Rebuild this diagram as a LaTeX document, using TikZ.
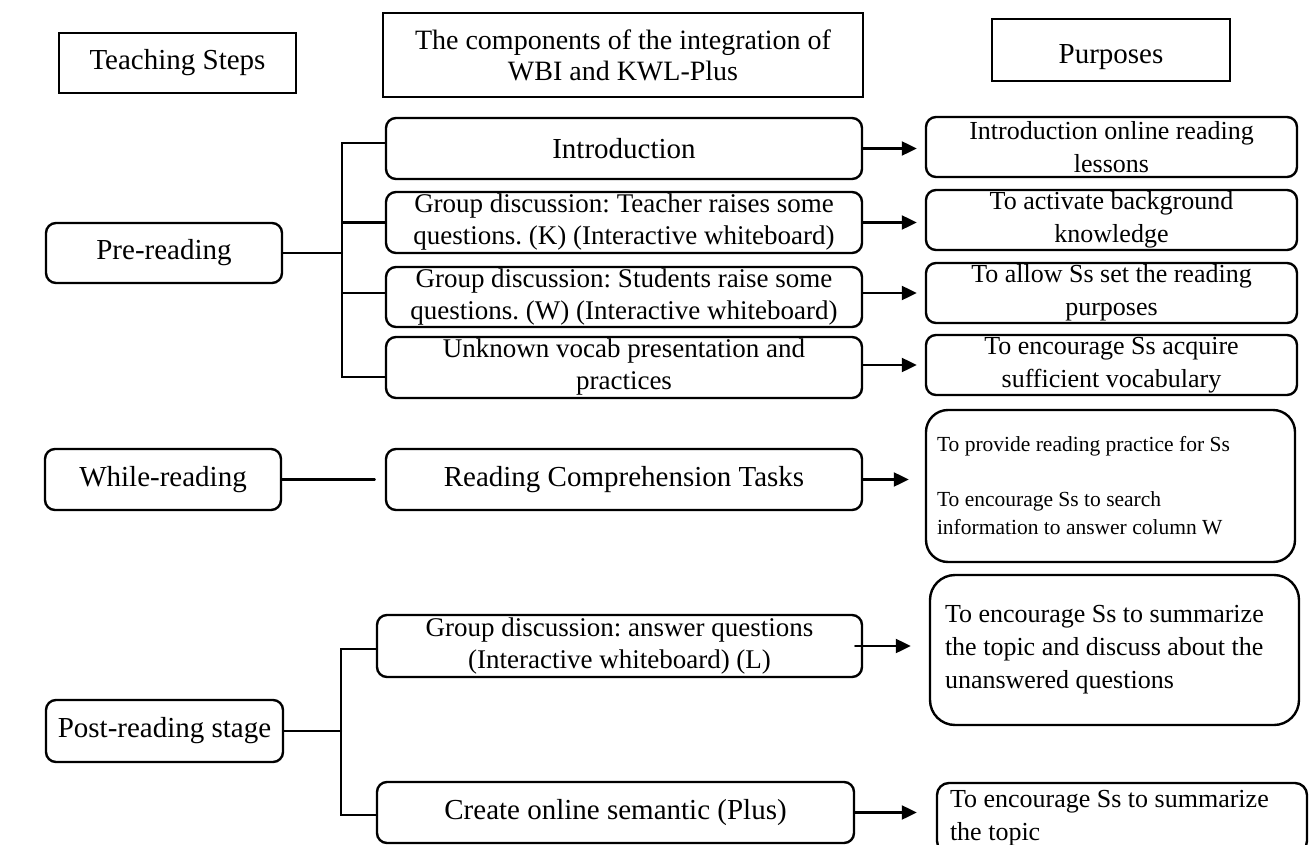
\documentclass[tikz,border=0pt]{standalone}
\usepackage{fontspec}
\setmainfont{Liberation Serif}
\usetikzlibrary{arrows.meta}
\frenchspacing
\begin{document}
\begin{tikzpicture}[x=1pt, y=-1pt, line cap=round,
    box/.style={draw, line width=2.4pt, rounded corners=10pt, inner sep=0pt, align=center},
    sq/.style={draw, line width=2.2pt, inner sep=0pt, align=center},
    big/.style={font=\fontsize{29}{31}\selectfont},
    mid/.style={font=\fontsize{27}{32}\selectfont},
    purp/.style={font=\fontsize{26}{33}\selectfont},
    link/.style={line width=2.2pt},
    arr/.style={line width=2.2pt, -{Triangle[length=15pt, width=14pt]}}]
  \useasboundingbox (0,0) rectangle (1311,845);
  \clip (0,0) rectangle (1311,845);
  \fill[white] (0,0) rectangle (1311,845);

  \node[sq, big, minimum width=237pt, minimum height=60pt] (steps) at (177.5,63) {Teaching Steps};
  \node[sq, font=\fontsize{28}{31}\selectfont, minimum width=480pt, minimum height=84pt] (comp) at (623,55) {The components of the integration of\\WBI and KWL-Plus};
  \node[sq, big, minimum width=238pt, minimum height=62pt, text height=28pt, text depth=0pt] (purps) at (1111,50) {Purposes};

  \node[box, big, minimum width=236pt, minimum height=60pt] (pre) at (164,253) {Pre-reading};
  \node[box, big, minimum width=236pt, minimum height=61pt] (whl) at (163,479.5) {While-reading};
  \node[box, big, minimum width=237pt, minimum height=62pt] (pst) at (164.5,731) {Post-reading stage};

  \node[box, big, minimum width=476pt, minimum height=61pt] (intro) at (624,148.5) {Introduction};
  \node[box, mid, minimum width=476pt, minimum height=61pt] (tgd) at (624,222.5) {Group discussion: Teacher raises some\\questions. (K) (Interactive whiteboard)};
  \node[box, mid, minimum width=476pt, minimum height=60pt] (sgd) at (624,297) {Group discussion: Students raise some\\questions. (W) (Interactive whiteboard)};
  \node[box, mid, minimum width=476pt, minimum height=61pt] (vocab) at (624,367.5) {Unknown vocab presentation and\\practices};
  \node[box, big, minimum width=476pt, minimum height=61pt] (rc) at (624,479.5) {Reading Comprehension Tasks};
  \node[box, mid, minimum width=485pt, minimum height=62pt] (ans) at (619.5,646) {Group discussion: answer questions\\(Interactive whiteboard) (L)};
  \node[box, big, minimum width=477pt, minimum height=61pt] (crt) at (615.5,812.5) {Create online semantic (Plus)};

  \node[box, purp, minimum width=371pt, minimum height=60pt] (introp) at (1111.5,147) {Introduction online reading\\lessons};
  \node[box, purp, minimum width=371pt, minimum height=60pt] (actp) at (1111.5,220) {To activate background\\knowledge};
  \node[box, purp, minimum width=371pt, minimum height=60pt] (allowp) at (1111.5,293) {To allow Ss set the reading\\purposes};
  \node[box, purp, minimum width=371pt, minimum height=60pt] (vocabp) at (1111.5,365) {To encourage Ss acquire\\sufficient vocabulary};
  \node[box, rounded corners=22pt, font=\fontsize{21.5}{28}\selectfont, align=flush left, text width=347pt, inner xsep=11pt, minimum height=152pt] (practp) at (1110.5,486) {To provide reading practice for Ss\\[27pt]To encourage Ss to search\\information to answer column W};
  \node[box, purp, rounded corners=25pt, align=flush left, text width=339pt, inner xsep=15pt, minimum height=150pt] (sump) at (1114.5,650) {To encourage Ss to summarize\\the topic and discuss about the\\unanswered questions};
  \node[box, purp, rounded corners=12pt, align=flush left, text width=344pt, inner xsep=13pt, minimum height=70pt] (lastp) at (1122,818) {To encourage Ss to summarize\\the topic};

  \coordinate (prefork) at (342,253);
  \coordinate (postfork) at (341,731);
  \draw[link] (pre) -- (prefork);
  \foreach \b/\s in {intro/5.5, tgd/0, sgd/4, vocab/-9.5}
    \draw[link] ([yshift=\s pt]\b.west) -| (prefork);
  \draw[link] (whl) -- ([xshift=-10pt]rc.west);
  \draw[link] (pst) -- (postfork);
  \foreach \b/\s in {ans/-3, crt/-2.5}
    \draw[link] ([yshift=\s pt]\b.west) -| (postfork);

  \draw[arr, shorten >=8pt] (intro) -- (intro.east -| introp.west);
  \draw[arr, shorten >=8pt] (tgd) -- (tgd.east -| actp.west);
  \draw[arr, shorten >=8pt] (sgd.east |- allowp) -- (allowp);
  \draw[arr, shorten >=8pt] (vocab.east |- vocabp) -- (vocabp);
  \draw[arr, shorten >=16pt] (rc) -- (rc.east -| practp.west);
  \draw[arr, shorten >=18pt] ([xshift=-8pt]ans.east) -- (ans.east -| sump.west);
  \draw[arr, shorten >=19pt] (crt) -- (crt.east -| lastp.west);
\end{tikzpicture}
\end{document}
